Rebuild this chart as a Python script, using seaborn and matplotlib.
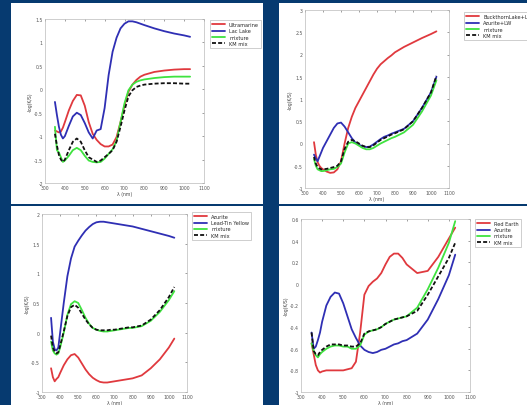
import numpy as np
import pandas as pd
import matplotlib
matplotlib.use("Agg")
import matplotlib.pyplot as plt
from matplotlib.patches import Rectangle
import seaborn as sns

# wavelength grid (nm) shared by all panels
wl = [350, 360, 370, 380, 390, 400, 420, 440, 460, 480, 500, 520, 540, 560, 580,
      600, 620, 640, 660, 680, 700, 720, 740, 760, 780, 800, 850, 900, 950, 1000, 1030]

# panel 1: Ultramarine + Lac Lake
p1_names = ["Ultramarine", "Lac Lake", "mixture", "KM mix"]
p1_a = [-0.88, -0.9, -0.92, -0.9, -0.82, -0.7, -0.45, -0.25, -0.12, -0.13, -0.35, -0.7, -0.95, -1.08, -1.17,
        -1.22, -1.22, -1.18, -1.02, -0.7, -0.35, -0.05, 0.1, 0.2, 0.27, 0.31, 0.37, 0.4, 0.42, 0.43, 0.43]
p1_b = [-0.27, -0.55, -0.8, -0.97, -1.05, -1.0, -0.78, -0.58, -0.5, -0.55, -0.72, -0.92, -1.05, -0.88, -0.85,
        -0.4, 0.3, 0.8, 1.1, 1.3, 1.4, 1.45, 1.45, 1.43, 1.4, 1.37, 1.3, 1.24, 1.19, 1.15, 1.12]
p1_mix = [-0.8, -1.3, -1.35, -1.45, -1.55, -1.52, -1.42, -1.3, -1.25, -1.3, -1.42, -1.52, -1.55, -1.56, -1.55,
          -1.48, -1.38, -1.28, -1.1, -0.7, -0.3, -0.02, 0.1, 0.16, 0.19, 0.21, 0.24, 0.26, 0.27, 0.27, 0.27]
p1_km = [-0.95, -1.2, -1.4, -1.5, -1.55, -1.5, -1.3, -1.12, -1.05, -1.12, -1.3, -1.45, -1.5, -1.55, -1.52,
         -1.45, -1.38, -1.3, -1.12, -0.8, -0.45, -0.15, -0.02, 0.05, 0.08, 0.1, 0.12, 0.13, 0.13, 0.12, 0.12]

# panel 2: Buckthorn Lake + Azurite
p2_names = ["BuckthornLake+LW", "Azurite+LW", "mixture", "KM mix"]
p2_a = [0.03, -0.25, -0.42, -0.5, -0.55, -0.58, -0.63, -0.66, -0.65, -0.58, -0.4, 0.0, 0.35, 0.6, 0.8,
        0.95, 1.1, 1.25, 1.4, 1.55, 1.68, 1.78, 1.85, 1.92, 1.98, 2.05, 2.17, 2.27, 2.37, 2.46, 2.52]
p2_b = [-0.25, -0.33, -0.4, -0.3, -0.2, -0.1, 0.05, 0.2, 0.35, 0.45, 0.47, 0.38, 0.25, 0.12, 0.02,
        -0.03, -0.06, -0.08, -0.07, -0.02, 0.04, 0.1, 0.15, 0.18, 0.22, 0.25, 0.33, 0.5, 0.8, 1.15, 1.5]
p2_mix = [-0.35, -0.5, -0.58, -0.6, -0.62, -0.62, -0.6, -0.58, -0.57, -0.53, -0.45, -0.2, 0.0, 0.03, 0.0,
          -0.05, -0.1, -0.13, -0.13, -0.1, -0.05, 0.0, 0.04, 0.08, 0.12, 0.15, 0.25, 0.42, 0.72, 1.08, 1.42]
p2_km = [-0.3, -0.45, -0.53, -0.56, -0.58, -0.58, -0.57, -0.55, -0.53, -0.5, -0.4, -0.12, 0.04, 0.08, 0.05,
         0.0, -0.05, -0.08, -0.08, -0.04, 0.02, 0.08, 0.12, 0.16, 0.2, 0.23, 0.32, 0.5, 0.8, 1.15, 1.52]

# panel 3: Azurite + Lead-Tin Yellow
p3_names = ["Azurite", "Lead-Tin Yellow", "mixture", "KM mix"]
p3_a = [-0.6, -0.75, -0.82, -0.78, -0.75, -0.68, -0.55, -0.45, -0.38, -0.36, -0.42, -0.52, -0.62, -0.7, -0.76,
        -0.8, -0.83, -0.84, -0.84, -0.83, -0.82, -0.81, -0.8, -0.79, -0.78, -0.77, -0.72, -0.6, -0.45, -0.25, -0.1]
p3_b = [0.25, -0.15, -0.28, -0.3, -0.25, 0.0, 0.5, 0.95, 1.25, 1.45, 1.55, 1.64, 1.72, 1.78, 1.83,
        1.86, 1.87, 1.87, 1.86, 1.85, 1.84, 1.83, 1.82, 1.81, 1.8, 1.79, 1.75, 1.71, 1.67, 1.63, 1.6]
p3_mix = [-0.15, -0.3, -0.35, -0.37, -0.35, -0.25, 0.0, 0.3, 0.48, 0.53, 0.5, 0.38, 0.25, 0.15, 0.08,
          0.05, 0.03, 0.02, 0.02, 0.03, 0.04, 0.05, 0.06, 0.07, 0.08, 0.08, 0.11, 0.2, 0.35, 0.55, 0.7]
p3_km = [-0.05, -0.25, -0.32, -0.35, -0.33, -0.22, 0.02, 0.28, 0.43, 0.47, 0.42, 0.32, 0.22, 0.14, 0.08,
         0.05, 0.04, 0.04, 0.04, 0.05, 0.05, 0.06, 0.07, 0.08, 0.09, 0.09, 0.12, 0.22, 0.38, 0.6, 0.77]

# panel 4: Red Earth + Azurite
p4_names = ["Red Earth", "Azurite", "mixture", "KM mix"]
p4_a = [-0.55, -0.65, -0.75, -0.8, -0.82, -0.81, -0.8, -0.8, -0.8, -0.8, -0.8, -0.79, -0.78, -0.72, -0.45,
        -0.1, -0.02, 0.02, 0.05, 0.1, 0.18, 0.25, 0.28, 0.28, 0.24, 0.18, 0.1, 0.12, 0.25, 0.42, 0.52]
p4_b = [-0.45, -0.6, -0.58, -0.52, -0.45, -0.35, -0.2, -0.12, -0.08, -0.09, -0.18, -0.3, -0.42, -0.5, -0.57,
        -0.61, -0.63, -0.64, -0.63, -0.61, -0.6, -0.58, -0.56, -0.55, -0.53, -0.52, -0.46, -0.33, -0.14, 0.08, 0.27]
p4_mix = [-0.55, -0.62, -0.66, -0.68, -0.65, -0.63, -0.6, -0.58, -0.57, -0.57, -0.58, -0.58, -0.6, -0.6, -0.57,
          -0.47, -0.44, -0.43, -0.42, -0.4, -0.37, -0.35, -0.33, -0.32, -0.31, -0.3, -0.22, -0.05, 0.15, 0.38, 0.58]
p4_km = [-0.45, -0.62, -0.65, -0.66, -0.63, -0.61, -0.58, -0.56, -0.56, -0.56, -0.57, -0.57, -0.58, -0.58, -0.55,
         -0.46, -0.44, -0.43, -0.42, -0.4, -0.37, -0.35, -0.33, -0.32, -0.31, -0.3, -0.25, -0.1, 0.07, 0.24, 0.38]

W, H = 527, 406
BG = "#063a70"
colors = ["#e0393e", "#2f2fb4", "#3fe33f", "#111111"]


def fx(px):
    return px / W


def fy(py):
    return 1 - py / H


def long_df(names, series):
    rows = []
    for name, vals in zip(names, series):
        for w, v in zip(wl, vals):
            rows.append({"wl": w, "val": v, "series": name})
    return pd.DataFrame(rows)


sns.set_style("white")
plt.rcParams["font.family"] = ["DejaVu Sans"]

fig = plt.figure(figsize=(W / 100, H / 100), dpi=100, facecolor=BG)

# white panels behind each chart (x0, y0, x1, y1 in pixels)
panel_boxes = [(11, 4, 263, 205), (279, 4, 527, 205), (11, 207, 263, 406), (279, 207, 527, 406)]
for x0, y0, x1, y1 in panel_boxes:
    rect = Rectangle((fx(x0), fy(y1)), fx(x1 - x0), (y1 - y0) / H,
                     transform=fig.transFigure, facecolor="white", edgecolor="none")
    rect.set_zorder(-5)
    fig.add_artist(rect)

panels = [
    (p1_names, [p1_a, p1_b, p1_mix, p1_km], (45, 20, 204, 184), (-2, 1.5), np.arange(-2, 1.51, 0.5), (210, 21)),
    (p2_names, [p2_a, p2_b, p2_mix, p2_km], (305, 11, 449, 189), (-1, 3), np.arange(-1, 3.01, 0.5), (464, 13)),
    (p3_names, [p3_a, p3_b, p3_mix, p3_km], (42, 215, 187, 393), (-1, 2), np.arange(-1, 2.01, 0.5), (192, 213)),
    (p4_names, [p4_a, p4_b, p4_mix, p4_km], (301, 220, 470, 393), (-1, 0.6), np.arange(-1, 0.61, 0.2), (475, 220)),
]

for names, series, box, ylim, yticks, leg in panels:
    x0, y0, x1, y1 = box
    ax = fig.add_axes([fx(x0), fy(y1), fx(x1 - x0), (y1 - y0) / H])
    df = long_df(names, series)
    sns.lineplot(data=df, x="wl", y="val", hue="series", style="series",
                 hue_order=names, style_order=names, palette=colors,
                 dashes=["", "", "", (2.2, 1.2)], linewidth=1.3, ax=ax)
    ax.set_xlim(300, 1100)
    ax.set_ylim(*ylim)
    ax.set_xticks(np.arange(300, 1101, 100))
    ax.set_yticks(yticks)
    ax.set_yticklabels([f"{t:g}" if abs(t) > 1e-9 else "0" for t in yticks])
    ax.tick_params(direction="in", length=1.5, width=0.4, labelsize=3.3, pad=1.5,
                   top=True, right=True, colors="#555555")
    for s in ax.spines.values():
        s.set_color("#bbbbbb")
        s.set_linewidth(0.5)
    ax.set_xlabel("\u03bb (nm)", fontsize=3.3, labelpad=0.5, color="#444444")
    ax.set_ylabel("-log(K/S)", fontsize=3.3, labelpad=1, color="#444444")
    ax.legend(loc="upper left", bbox_to_anchor=(fx(leg[0]), fy(leg[1])),
              bbox_transform=fig.transFigure, fontsize=3.6, frameon=True,
              fancybox=False, edgecolor="#bbbbbb", framealpha=1,
              handlelength=2.6, borderpad=0.4, labelspacing=0.25, borderaxespad=0)
    ax.get_legend().get_frame().set_linewidth(0.5)

fig.savefig("out.png", dpi=100, facecolor=BG)
